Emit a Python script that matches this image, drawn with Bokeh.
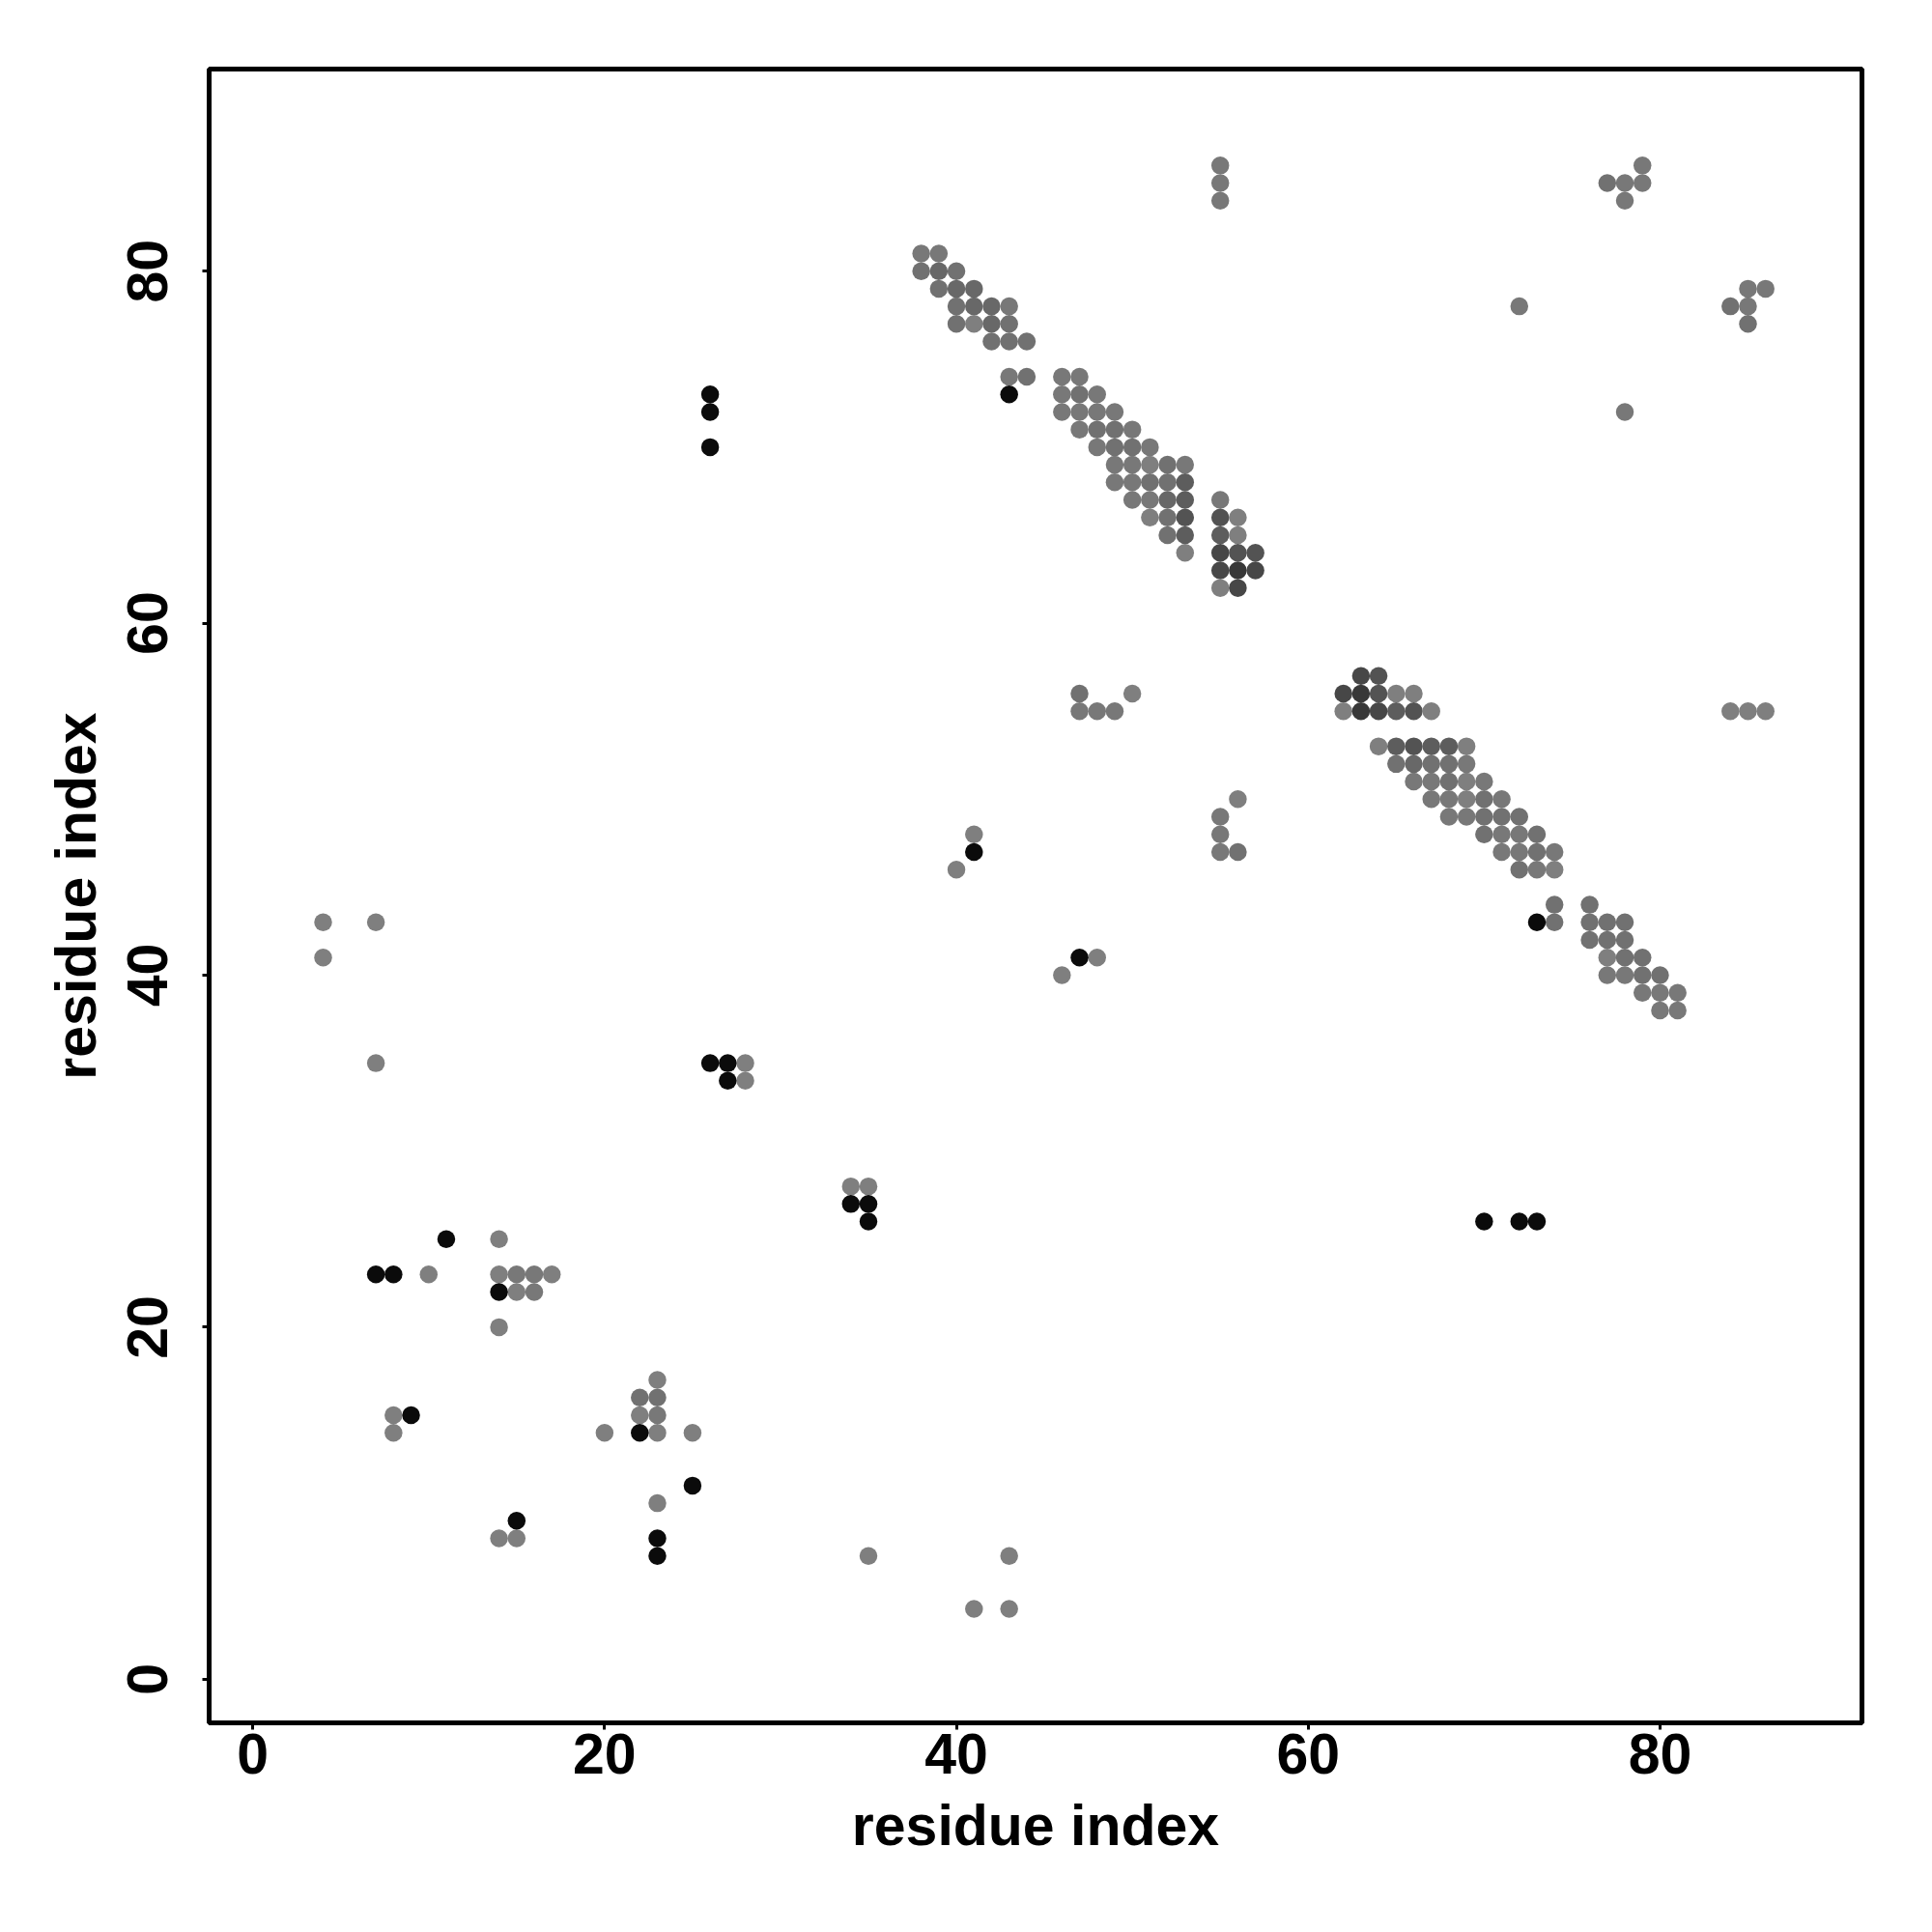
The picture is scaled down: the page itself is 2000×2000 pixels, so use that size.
from bokeh.plotting import figure
from bokeh.models import Range1d, FixedTicker, ColumnDataSource, LinearColorMapper
from bokeh.embed import file_html
from bokeh.resources import INLINE

# ---------------- data ----------------
# predicted contacts (residue i, residue j) and a consensus score (0 = weak ... 7 = strong)
pred_i = [
    # lower-left region
    14, 10, 14, 15, 16, 17, 15, 16, 14, 8, 8, 23, 22, 23, 22, 23, 20, 23, 25, 23, 14, 15,
    35, 43, 41, 43,
    # left / middle
    4, 4, 7, 7, 28, 28, 34, 35,
    41, 40, 47, 47, 48, 49, 50, 55, 55, 55, 56, 56, 48, 46,
    # top / right
    55, 55, 55, 77, 78, 79, 79, 78, 72, 78, 84, 85, 86, 85, 85, 84, 85, 86,
    # upper diagonal band
    38, 39,
    38, 39, 40,
    39, 40, 41,
    40, 41, 42, 43,
    40, 41, 42, 43,
    42, 43, 44,
    43, 44, 46, 47,
    46, 47, 48,
    46, 47, 48, 49,
    47, 48, 49, 50,
    48, 49, 50, 51,
    49, 50, 51, 52, 53,
    49, 50, 51, 52, 53,
    50, 51, 52, 53, 55,
    51, 52, 53, 55, 56,
    52, 53, 55, 56,
    53, 55, 56, 57,
    55, 56, 57,
    55, 56,
    # lower diagonal band
    63, 64,
    62, 63, 64, 65, 66,
    62, 63, 64, 65, 66, 67,
    64, 65, 66, 67, 68, 69,
    65, 66, 67, 68, 69,
    66, 67, 68, 69, 70,
    67, 68, 69, 70, 71,
    68, 69, 70, 71, 72,
    70, 71, 72, 73,
    71, 72, 73, 74,
    72, 73, 74,
    74, 76,
    74, 76, 77, 78,
    76, 77, 78,
    77, 78, 79,
    77, 78, 79, 80,
    79, 80, 81,
    80, 81,
]
pred_j = [
    25, 23, 23, 23, 23, 23, 22, 22, 20, 15, 14, 17, 16, 16, 15, 15, 14, 14, 14, 10, 8, 8,
    7, 7, 4, 4,
    43, 41, 43, 35, 35, 34, 28, 28,
    48, 46, 56, 55, 55, 55, 56, 49, 48, 47, 50, 47, 41, 40,
    86, 85, 84, 85, 85, 86, 85, 84, 78, 72, 78, 79, 79, 78, 77, 55, 55, 55,
    81, 81,
    80, 80, 80,
    79, 79, 79,
    78, 78, 78, 78,
    77, 77, 77, 77,
    76, 76, 76,
    74, 74, 74, 74,
    73, 73, 73,
    72, 72, 72, 72,
    71, 71, 71, 71,
    70, 70, 70, 70,
    69, 69, 69, 69, 69,
    68, 68, 68, 68, 68,
    67, 67, 67, 67, 67,
    66, 66, 66, 66, 66,
    65, 65, 65, 65,
    64, 64, 64, 64,
    63, 63, 63,
    62, 62,
    57, 57,
    56, 56, 56, 56, 56,
    55, 55, 55, 55, 55, 55,
    53, 53, 53, 53, 53, 53,
    52, 52, 52, 52, 52,
    51, 51, 51, 51, 51,
    50, 50, 50, 50, 50,
    49, 49, 49, 49, 49,
    48, 48, 48, 48,
    47, 47, 47, 47,
    46, 46, 46,
    44, 44,
    43, 43, 43, 43,
    42, 42, 42,
    41, 41, 41,
    40, 40, 40, 40,
    39, 39, 39,
    38, 38,
]
pred_score = [
    0, 0, 0, 1, 1, 0, 0, 1, 0, 0, 0, 0, 2, 2, 0, 1, 0, 0, 0, 0, 0, 0,
    0, 0, 0, 0,
    0, 0, 0, 0, 0, 0, 0, 0,
    0, 0, 2, 1, 1, 1, 0, 1, 1, 1, 0, 2, 0, 0,
    1, 1, 1, 2, 1, 1, 1, 1, 1, 1, 2, 1, 1, 1, 2, 0, 0, 0,
    1, 1,
    2, 3, 2,
    2, 3, 3,
    2, 3, 3, 1,
    2, 0, 3, 2,
    2, 2, 2,
    1, 2, 1, 1,
    1, 2, 1,
    1, 1, 1, 1,
    1, 2, 2, 1,
    1, 2, 2, 1,
    1, 1, 0, 2, 1,
    1, 1, 2, 2, 4,
    1, 1, 3, 4, 1,
    0, 2, 5, 5, 0,
    2, 4, 4, 0,
    0, 6, 5, 5,
    6, 7, 6,
    0, 6,
    6, 5,
    6, 7, 5, 0, 0,
    0, 7, 6, 4, 5, 0,
    0, 4, 5, 4, 4, 0,
    2, 3, 2, 2, 1,
    1, 1, 2, 0, 1,
    1, 1, 0, 2, 1,
    1, 1, 2, 2, 2,
    2, 1, 1, 2,
    1, 1, 2, 1,
    2, 1, 0,
    2, 2,
    2, 2, 2, 2,
    2, 2, 2,
    0, 2, 2,
    1, 1, 2, 2,
    1, 1, 1,
    1, 1,
]
# native contacts
native_i = [11, 7, 8, 14, 9, 22, 25, 23, 23, 15, 26, 26, 26, 26, 27, 27, 34, 35, 35,
            70, 72, 73, 41, 47, 43, 73]
native_j = [25, 23, 23, 22, 15, 14, 11, 8, 7, 9, 73, 72, 70, 35, 35, 34, 27, 27, 26,
            26, 26, 26, 47, 41, 73, 43]

x_ticks = [0, 20, 40, 60, 80]
y_ticks = [0, 20, 40, 60, 80]
axis_title = "residue index"

# ---------------- plot ----------------
FONT = "Liberation Sans"
FS = "59px"

p = figure(width=1960, height=1960, output_backend="svg", toolbar_location=None,
           x_range=Range1d(-2.48, 91.48), y_range=Range1d(-2.48, 91.48),
           min_border_left=216, min_border_right=33, min_border_top=71,
           min_border_bottom=177)
p.background_fill_color = "white"
p.border_fill_color = "white"
p.outline_line_color = "black"
p.outline_line_width = 5
p.xgrid.visible = False
p.ygrid.visible = False

gray_palette = ["#7f7f7f", "#787878", "#717171", "#686868", "#5d5d5d",
                "#535353", "#474747", "#383838"]
mapper = LinearColorMapper(palette=gray_palette, low=-0.5, high=7.5)

src_pred = ColumnDataSource(dict(x=pred_i, y=pred_j, s=pred_score))
p.scatter("x", "y", source=src_pred, size=18.5,
          fill_color={"field": "s", "transform": mapper}, line_color=None)
src_nat = ColumnDataSource(dict(x=native_i, y=native_j))
p.scatter("x", "y", source=src_nat, size=18.5, fill_color="#0b0b0b", line_color=None)

for ax, ticks in ((p.xaxis[0], x_ticks), (p.yaxis[0], y_ticks)):
    ax.ticker = FixedTicker(ticks=ticks)
    ax.axis_label = axis_title
    ax.axis_line_color = None
    ax.major_tick_out = 7
    ax.major_tick_in = 0
    ax.major_tick_line_width = 3
    ax.major_tick_line_color = "black"
    ax.minor_tick_line_color = None
    ax.major_label_text_font = FONT
    ax.major_label_text_font_style = "bold"
    ax.major_label_text_font_size = FS
    ax.major_label_text_color = "black"
    ax.axis_label_text_font = FONT
    ax.axis_label_text_font_style = "bold"
    ax.axis_label_text_font_size = FS
    ax.axis_label_text_color = "black"

p.xaxis.major_label_standoff = 4
p.xaxis.axis_label_standoff = 18
p.yaxis.major_label_orientation = "vertical"
p.yaxis.major_label_standoff = 36
p.yaxis.axis_label_standoff = 18

open("out.html", "w").write(file_html(p, INLINE))
